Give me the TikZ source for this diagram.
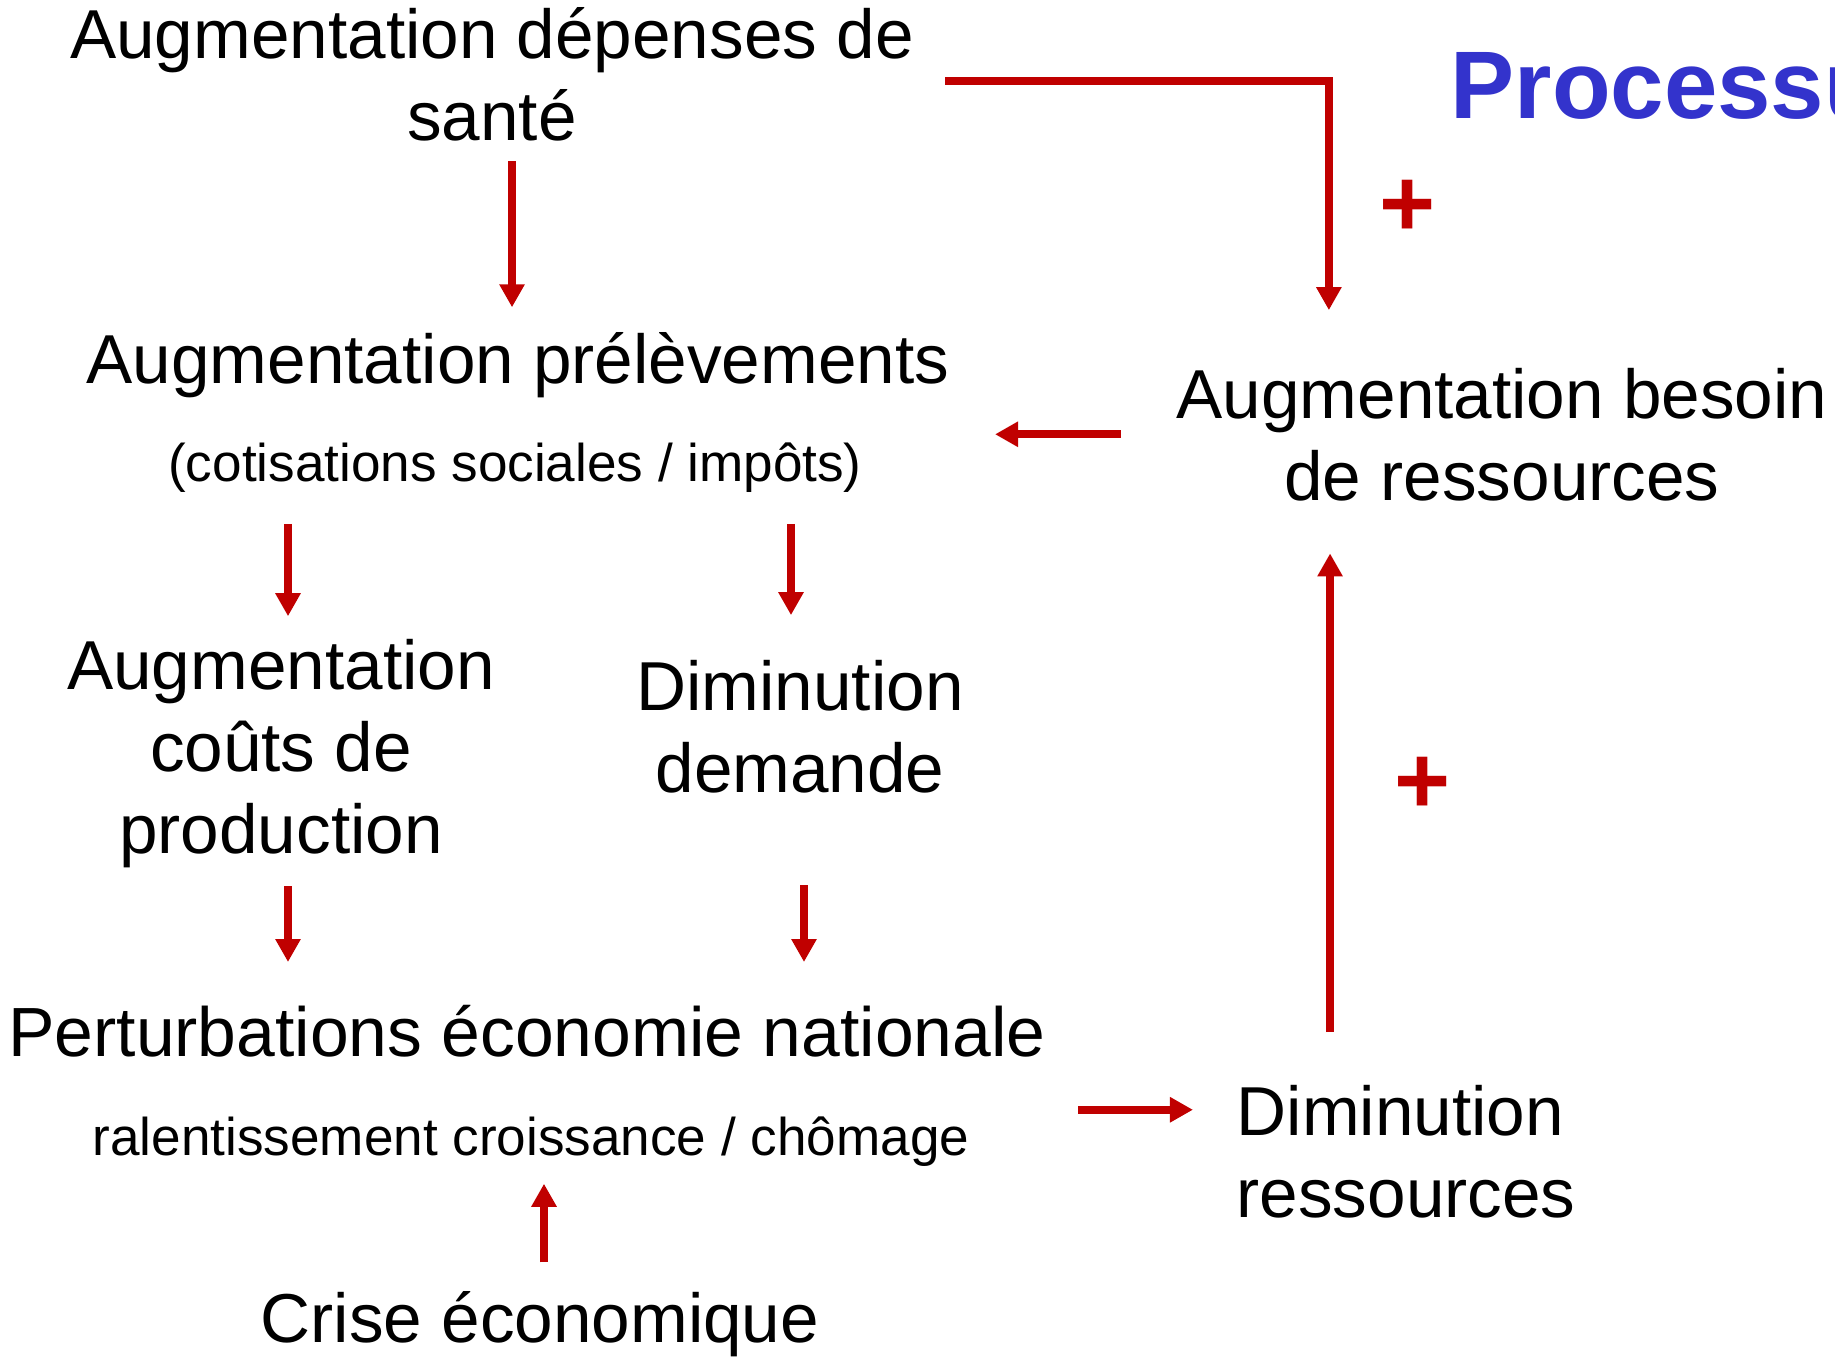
\documentclass[tikz,border=0pt]{standalone}
\usepackage{fontspec}
\setmainfont{Liberation Sans}
\usepackage{tikz}
\usetikzlibrary{arrows.meta}
\definecolor{rouge}{RGB}{192,0,0}
\definecolor{bleu}{RGB}{51,51,204}
\tikzset{
  texte/.style={inner sep=0pt, align=center, font=\fontsize{19.7pt}{23.3pt}\selectfont},
  petit/.style={inner sep=0pt, font=\fontsize{15.1pt}{18pt}\selectfont},
  fleche/.style={rouge, line width=2.3pt, -{Triangle[length=2.3mm,width=2.4mm]}},
  signe/.style={inner sep=0pt, text=rouge, font=\fontsize{27.3pt}{30pt}\selectfont\bfseries},
}

\begin{document}
\begin{tikzpicture}[x=0.01cm, y=-0.01cm]
		\useasboundingbox (0,0) rectangle (1835,1356);
		\clip (0,0) rectangle (1835,1356);
		% title:
		\node [anchor=base west, inner sep=0pt, text=bleu, font=\fontsize{27.3pt}{30pt}\selectfont\bfseries] (titre) at (1450,118) {Processus};
		% blocks (base = last line):
		\node [texte, anchor=base] (depenses) at (492,140) {Augmentation dépenses de\\santé};
		\node [texte, anchor=base] (prelev) at (518,383) {Augmentation prélèvements};
		\node [petit, anchor=base] (cotis) at (515,481) {(cotisations sociales / impôts)};
		\node [texte, anchor=base] (besoin) at (1502,500) {Augmentation besoin\\de ressources};
		\node [texte, anchor=base] (couts) at (281,853) {Augmentation\\coûts de\\production};
		\node [texte, anchor=base] (demande) at (800,792) {Diminution\\demande};
		\node [texte, anchor=base, font=\fontsize{19.8pt}{24pt}\selectfont] (perturb) at (527,1056) {Perturbations économie nationale};
		\node [petit, anchor=base] (ralent) at (531,1155) {ralentissement croissance / chômage};
		\node [texte, anchor=base west, align=left] (dimres) at (1236,1217) {Diminution\\ressources};
		\node [texte, anchor=base] (crise) at (540,1342) {Crise économique};
		% signs
		\node [signe] (plus1) at (1408,208) {+};
		\node [signe] (plus2) at (1423,785) {+};
		
		% loop arrows
		\draw [fleche, shorten <=3.1mm, shorten >=5.7mm] ([yshift=-0.7mm]depenses.east) -| ([xshift=-17.3mm]besoin.north);
		\draw [fleche, shorten <=5.5mm, shorten >=4.5mm] (besoin.west) -- (besoin.west -| prelev.east);
		\draw [fleche, shorten <=3.2mm, shorten >=4.3mm] ([yshift=-7.9mm]perturb.east) -- ([yshift=-7.9mm]perturb.east -| dimres.west);
		\draw [fleche, shorten <=5.2mm, shorten >=5.2mm] ([xshift=-7.6mm]dimres.north) -- ([xshift=-7.6mm]dimres.north |- besoin.south);
		% down arrows
		\draw [fleche, shorten <=2mm, shorten >=2.4mm] ([xshift=2mm]depenses.south) -- ([xshift=2mm]depenses.south |- prelev.north);
		\draw [fleche, shorten <=3.1mm, shorten >=2.2mm] ([xshift=0.7mm]couts.north |- cotis.south) -- ([xshift=0.7mm]couts.north);
		\draw [fleche, shorten <=3.1mm, shorten >=4.4mm] ([xshift=-0.9mm]demande.north |- cotis.south) -- ([xshift=-0.9mm]demande.north);
		\draw [fleche, shorten <=1.8mm, shorten >=4.2mm] ([xshift=0.7mm]couts.south) -- ([xshift=0.7mm]couts.south |- perturb.north);
		\draw [fleche, shorten <=9.2mm, shorten >=4.2mm] ([xshift=0.4mm]demande.south) -- ([xshift=0.4mm]demande.south |- perturb.north);
		% crisis
		\draw [fleche, shorten <=2.8mm, shorten >=1.7mm] ([xshift=0.4mm]crise.north) -- ([xshift=0.4mm]crise.north |- ralent.south);
\end{tikzpicture}
\end{document}
